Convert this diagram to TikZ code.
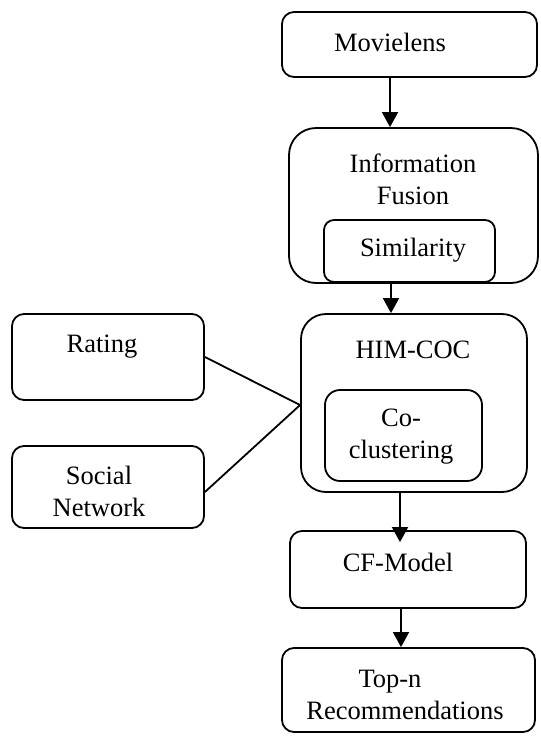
\documentclass[tikz,border=0pt]{standalone}
\usepackage{fontspec}
\setmainfont{Liberation Serif}
\usetikzlibrary{math}
\usetikzlibrary{arrows.meta}

\begin{document}
\begin{tikzpicture}[x=1pt, y=-1pt, line width=1.8pt,
	box/.style={draw, rounded corners=12pt, inner sep=0pt},
	lbl/.style={align=center, inner sep=0pt, font=\fontsize{26.5}{32}\selectfont},
	arr/.style={-{Triangle[length=15pt,width=16pt]}}]
	% Constants
	\tikzmath{\topx = 390; \midx = 391; \lowx = 400; \botx = 401;}
	\useasboundingbox (0,0) rectangle (541,737);

	% Right column
	\node[box, minimum width=255pt, minimum height=65pt] (movielens) at (409.5,44.5) {};
	\node[box, rounded corners=27pt, minimum width=249pt, minimum height=155pt] (fusion) at (413.5,205.5) {};
	\node[box, rounded corners=10pt, minimum width=171pt, minimum height=62pt] (similarity) at (409.5,251) {};
	\node[box, rounded corners=25pt, minimum width=226pt, minimum height=178pt] (himcoc) at (414,403) {};
	\node[box, rounded corners=15pt, minimum width=157pt, minimum height=91pt] (cocluster) at (403.5,435.5) {};
	\node[box, minimum width=236pt, minimum height=77pt] (cfmodel) at (408,569.5) {};
	\node[box, minimum width=253pt, minimum height=84pt] (topn) at (408.5,690) {};

	% Left column
	\node[box, minimum width=192pt, minimum height=86pt] (rating) at (108,357) {};
	\node[box, minimum width=192pt, minimum height=82pt] (social) at (108,487) {};

	% Labels
	\node[lbl] (movielenstxt) at (390,42) {Movielens};
	\node[lbl] (fusiontxt) at (413,179) {Information\\Fusion};
	\node[lbl] (similaritytxt) at (413,250) {Similarity};
	\node[lbl] (himcoctxt) at (413,350) {HIM-COC};
	\node[lbl] (coclustertxt) at (401,437) {Co-\\clustering};
	\node[lbl] (ratingtxt) at (102,347) {Rating};
	\node[lbl] (socialtxt) at (99,491) {Social\\Network};
	\node[lbl] (cfmodeltxt) at (398,562) {CF-Model};
	\node[lbl] (topntxt) at (390,682) {Top-n};
	\node[lbl] (recomtxt) at (405,710) {Recommendations};

	% Arrows
	\draw[arr] (movielens.south -| \topx,0) -- (fusion.north -| \topx,0);
	\draw[arr] (fusion.south -| \midx,0) -- (himcoc.north -| \midx,0);
	\draw[arr] (himcoc.south -| \lowx,0) -- ([yshift=-12pt]cfmodel.north -| \lowx,0);
	\draw[arr] (cfmodel.south -| \botx,0) -- (topn.north -| \botx,0);

	% Inputs
	\draw (rating.east) -- ([yshift=-2pt]himcoc.west);
	\draw ([yshift=-5pt]social.east) -- ([yshift=-2pt]himcoc.west);
\end{tikzpicture}
\end{document}
